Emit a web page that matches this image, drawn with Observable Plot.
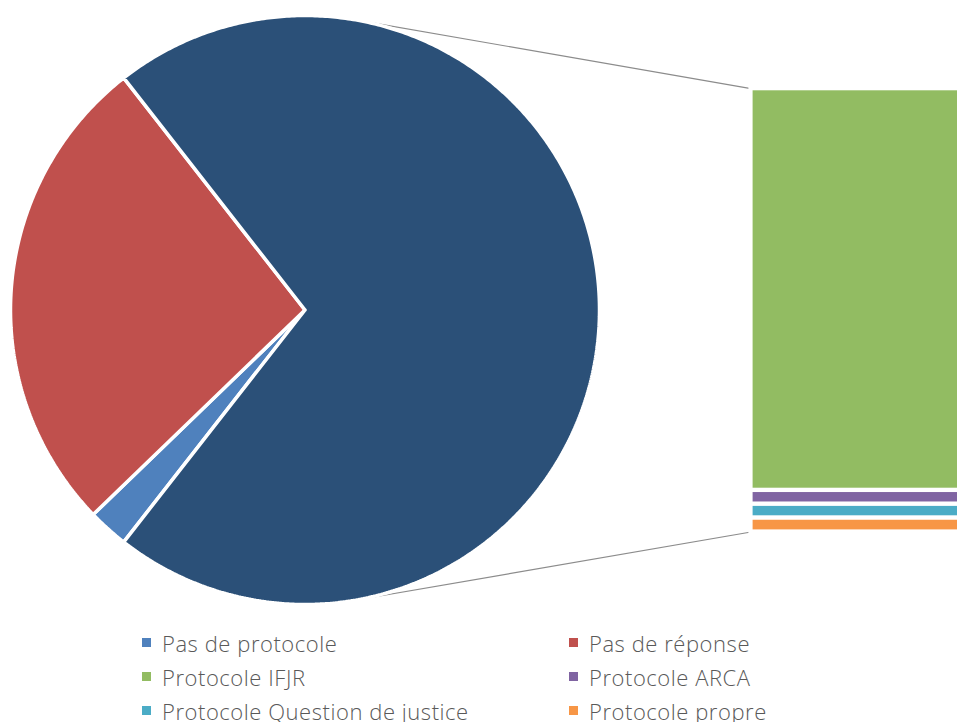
<!DOCTYPE html>
<html><head><meta charset="utf-8">
<script src="https://cdn.jsdelivr.net/npm/d3@7"></script>
<script src="https://cdn.jsdelivr.net/npm/@observablehq/plot@0.6"></script>
<style>
body{margin:0;background:#fff;}
#wrap{width:957px;overflow:hidden;}
#chart svg{display:block;overflow:hidden;}
.legend{display:grid;grid-template-columns:427px 388px;grid-auto-rows:34px;padding-left:142px;margin-top:6px;font-family:"Open Sans",Lato,sans-serif;font-weight:300;font-size:22px;letter-spacing:0.55px;line-height:34px;color:#595959;}
.item{display:flex;align-items:center;white-space:nowrap;}
.sw{width:9px;height:9px;margin-right:11px;position:relative;top:-1px;flex:none;}
</style></head><body><div id="wrap"><div id="chart"></div><div class="legend" id="legend"></div></div>
<script>
// ---- data ----
const categories = ["Pas de protocole", "Pas de réponse", "Protocole IFJR", "Protocole ARCA", "Protocole Question de justice", "Protocole propre"];
const values = [1, 12, 29, 1, 1, 1];
const colors = ["#4F81BD", "#C0504D", "#92BC62", "#8064A2", "#4BACC6", "#F79646"];
const otherColor = "#2B5078";
const pieCount = 2; // first two categories in the pie, rest in the bar

// ---- layout ----
const W = 957, H = 620, CX = 304.5, CY = 309.5, R = 294.5;
const barLeftPx = 750.5, barRightPx = 980, barTopPx = 88.2, barBottomPx = 531.5;
const toX = px => (px - CX) / R, toY = py => (CY - py) / R;

const pieCats = categories.slice(0, pieCount).map((c, i) => ({name: c, value: values[i], color: colors[i]}));
const barCats = categories.slice(pieCount).map((c, i) => ({name: c, value: values[pieCount + i], color: colors[pieCount + i]}));
const otherTotal = d3.sum(barCats, d => d.value);
const total = d3.sum(values);
const otherAngle = 2 * Math.PI * otherTotal / total;

const slicesData = [...pieCats, {name: "Autres", value: otherTotal, color: otherColor}];
const arcs = d3.pie().value(d => d.value).sort(null)
  .startAngle(Math.PI / 2 + otherAngle / 2)
  .endAngle(Math.PI / 2 + otherAngle / 2 + 2 * Math.PI)(slicesData);

function wedge(a) {
  const pts = [{x: 0, y: 0}];
  const n = Math.max(2, Math.ceil((a.endAngle - a.startAngle) / (Math.PI / 360)));
  for (let k = 0; k <= n; k++) {
    const t = a.startAngle + (a.endAngle - a.startAngle) * k / n;
    pts.push({x: Math.sin(t), y: Math.cos(t)});
  }
  pts.push({x: 0, y: 0});
  return pts;
}

// bar stacking (top to bottom)
const yTop = toY(barTopPx), yBot = toY(barBottomPx);
const unit = (yTop - yBot) / otherTotal;
let acc = 0;
const barRects = barCats.map(d => {
  const r = {...d, x1: toX(barLeftPx), x2: toX(barRightPx), y1: yTop - acc * unit, y2: yTop - (acc + d.value) * unit};
  acc += d.value;
  return r;
});

// tangent connectors from the bar corners to the pie circle (unit circle)
function tangent(px, py, upper) {
  const d = Math.hypot(px, py), phi = Math.atan2(py, px), b = Math.acos(1 / d);
  const t = upper ? phi + b : phi - b;
  return {x1: Math.cos(t), y1: Math.sin(t), x2: px, y2: py};
}
const connectors = [tangent(toX(barLeftPx), yTop, true), tangent(toX(barLeftPx), yBot, false)];

const marks = [];
marks.push(Plot.link(connectors, {x1: "x1", y1: "y1", x2: "x2", y2: "y2", stroke: "#8C8C8C", strokeWidth: 1.2}));
arcs.forEach(a => {
  marks.push(Plot.line(wedge(a), {x: "x", y: "y", fill: a.data.color, stroke: "white", strokeWidth: 3.5, strokeLinejoin: "miter", curve: "linear"}));
});
marks.push(Plot.rect(barRects, {x1: "x1", x2: "x2", y1: "y1", y2: "y2", fill: "color", stroke: "white", strokeWidth: 4.2}));

const chart = Plot.plot({
  width: W, height: H, margin: 0,
  x: {domain: [toX(0), toX(W)], range: [0, W], axis: null},
  y: {domain: [toY(H), toY(0)], range: [H, 0], axis: null},
  color: {type: "identity"},
  marks
});
document.getElementById("chart").appendChild(chart);

// legend
const leg = document.getElementById("legend");
categories.forEach((c, i) => {
  const it = document.createElement("div");
  it.className = "item";
  const sw = document.createElement("span");
  sw.className = "sw"; sw.style.background = colors[i];
  const tx = document.createElement("span");
  tx.textContent = c;
  it.appendChild(sw); it.appendChild(tx);
  leg.appendChild(it);
});
</script></body></html>
